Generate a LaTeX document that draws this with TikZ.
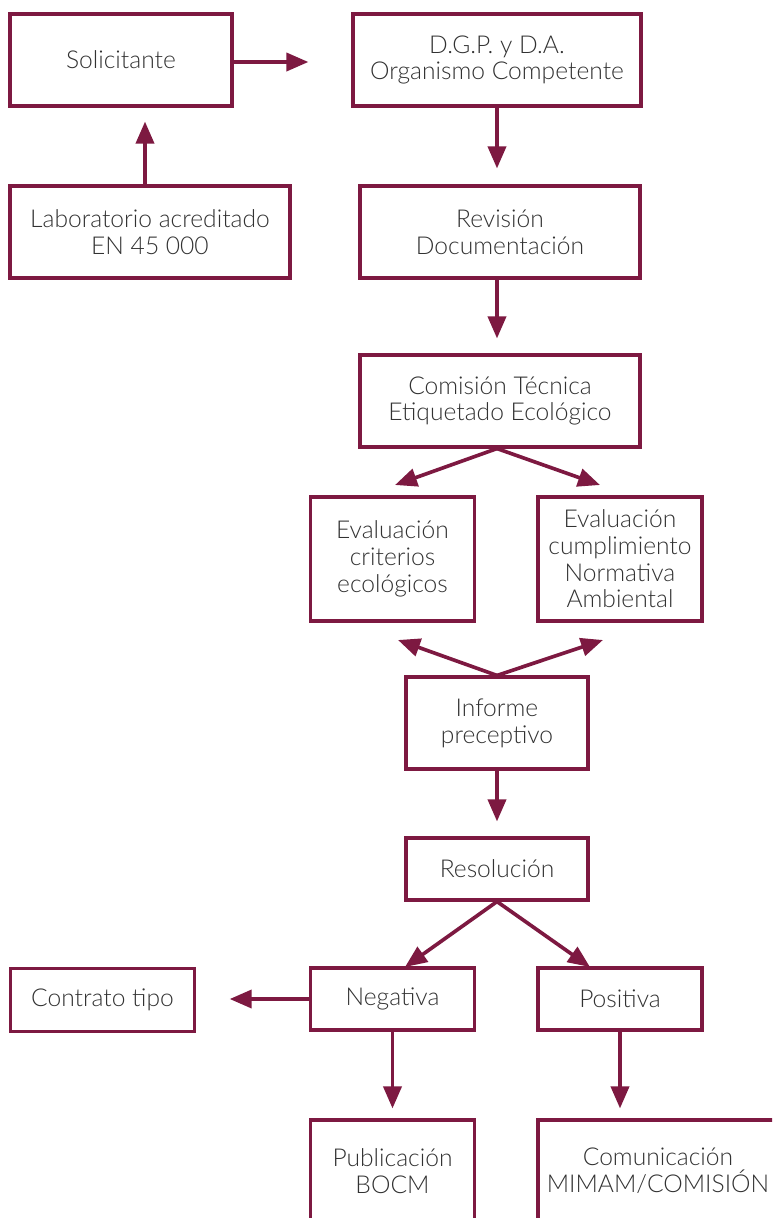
\documentclass[tikz,border=0pt]{standalone}
\usepackage{fontspec}
\setmainfont{Lato}[UprightFont={* Light}]
\usepackage{tikz}
\usetikzlibrary{arrows.meta, positioning}
\definecolor{wine}{RGB}{125,25,65}
\definecolor{ink}{RGB}{50,50,50}
\tikzset{
	box/.style={draw=wine, line width=2.2pt, text=ink, align=center, inner sep=2pt,
		font=\fontsize{17.5}{19}\selectfont},
	flow/.style={draw=wine, line width=2.6pt, -{Triangle[length=0.55cm, width=0.45cm]}}
}

\begin{document}
\begin{tikzpicture}[x=0.025cm, y=-0.025cm]
\clip (0,0) rectangle (772,1218);
% boxes
\node [box, minimum width=5.55cm, minimum height=2.3cm] (sol) at (121,60) {Solicitante};
\node [box, minimum width=7.2cm, minimum height=2.3cm] (dgp) at (497,60) {D.G.P. y D.A.\\Organismo Competente};
\node [box, minimum width=7cm, minimum height=2.3cm] (lab) at (150,232) {Laboratorio acreditado\\EN 45 000};
\node [box, minimum width=7cm, minimum height=2.3cm] (rev) at (500,232) {Revisión\\Documentación};
\node [box, minimum width=7cm, minimum height=2.3cm] (com) at (500,401) {Comisión Técnica\\Etiquetado Ecológico};
\node [box, minimum width=4.08cm, minimum height=3.1cm] (ev1) at (392.5,559) {Evaluación\\criterios\\ecológicos};
\node [box, minimum width=4.1cm, minimum height=3.1cm] (ev2) at (620,559) {Evaluación\\cumplimiento\\Normativa\\Ambiental};
\node [box, minimum width=4.55cm, minimum height=2.3cm] (inf) at (497,723) {Informe\\preceptivo};
\node [box, minimum width=4.55cm, minimum height=1.55cm] (res) at (497,869) {Resolución};
\node [box, minimum width=4.58cm, minimum height=1.58cm] (con) at (102.5,1000) {Contrato tipo};
\node [box, minimum width=4.08cm, minimum height=1.55cm] (neg) at (392.5,999) {Negativa};
\node [box, minimum width=4.1cm, minimum height=1.55cm] (pos) at (620,999) {Positiva};
\node [box, minimum width=4.08cm, minimum height=2.55cm] (pub) at (392.5,1171) {Publicación\\BOCM};
\node [box, minimum width=6cm, minimum height=2.55cm] (comu) at (658,1171) {Comunicación\\MIMAM/COMISIÓN};
% free arrow ends
\coordinate (ev1in) at (395,485);
\coordinate (ev2in) at (600,485);
\coordinate (ev1up) at (398,640);
\coordinate (ev2up) at (603,640);
\coordinate (negin) at (405,967);
\coordinate (posin) at (590,967);
% arrows
\draw [flow, shorten >=1.075cm] ([yshift=-0.05cm]sol.east) -- ([yshift=-0.05cm]dgp.west);
\draw [flow, shorten >=0.35cm] ([xshift=-0.125cm]lab.north) -- ([xshift=-0.125cm]lab.north |- sol.south);
\draw [flow, shorten >=0.4cm] (dgp.south) -- (dgp.south |- rev.north);
\draw [flow, shorten >=0.375cm] ([xshift=-0.075cm]rev.south) -- ([xshift=-0.075cm]com.north);
\draw [flow] ([xshift=-0.075cm]com.south) -- (ev1in);
\draw [flow] ([xshift=-0.075cm]com.south) -- (ev2in);
\draw [flow] (inf.north) -- (ev1up);
\draw [flow] (inf.north) -- (ev2up);
\draw [flow, shorten >=0.375cm] (inf.south) -- (res.north);
\draw [flow] (res.south) -- (negin);
\draw [flow] (res.south) -- (posin);
\draw [flow, shorten >=0.85cm] (neg.west) -- (neg.west -| con.east);
\draw [flow, shorten >=0.25cm] (neg.south) -- (pub.north);
\draw [flow, shorten >=0.25cm] (pos.south) -- (pos.south |- comu.north);
\end{tikzpicture}
\end{document}
